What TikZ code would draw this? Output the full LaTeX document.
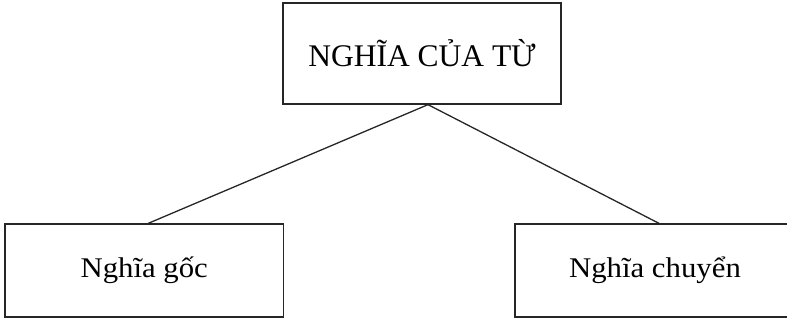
\documentclass[tikz,border=0pt]{standalone}
\usepackage{fontspec}
\setmainfont{Liberation Serif}
\newfontfamily\widefont[FakeStretch=1.08]{Liberation Serif}
\begin{document}
\begin{tikzpicture}[x=1pt,y=-1pt,
  box/.style={draw=black!85, line width=1.3pt, rectangle, inner sep=0pt},
  link/.style={draw=black!85, line width=1.3pt}]
\useasboundingbox (0,0) rectangle (787,322);
\node[box, minimum width=278pt, minimum height=101pt, font=\fontsize{31.5}{36}\selectfont] (top) at (422,53.5) {NGHĨA CỦA TỪ};
\node[box, minimum width=278.5pt, minimum height=93pt, font=\widefont\fontsize{28.5}{33}\selectfont] (gl) at (144.25,270.5) {Nghĩa gốc};
\node[box, minimum width=280pt, minimum height=93pt, font=\widefont\fontsize{28.5}{33}\selectfont] (gr) at (655,270.5) {Nghĩa chuyển};
\coordinate (apex) at ([xshift=6pt]top.south);
\draw[link] (apex) -- ([xshift=4pt]gl.north);
\draw[link] (apex) -- ([xshift=4pt]gr.north);
\end{tikzpicture}
\end{document}
